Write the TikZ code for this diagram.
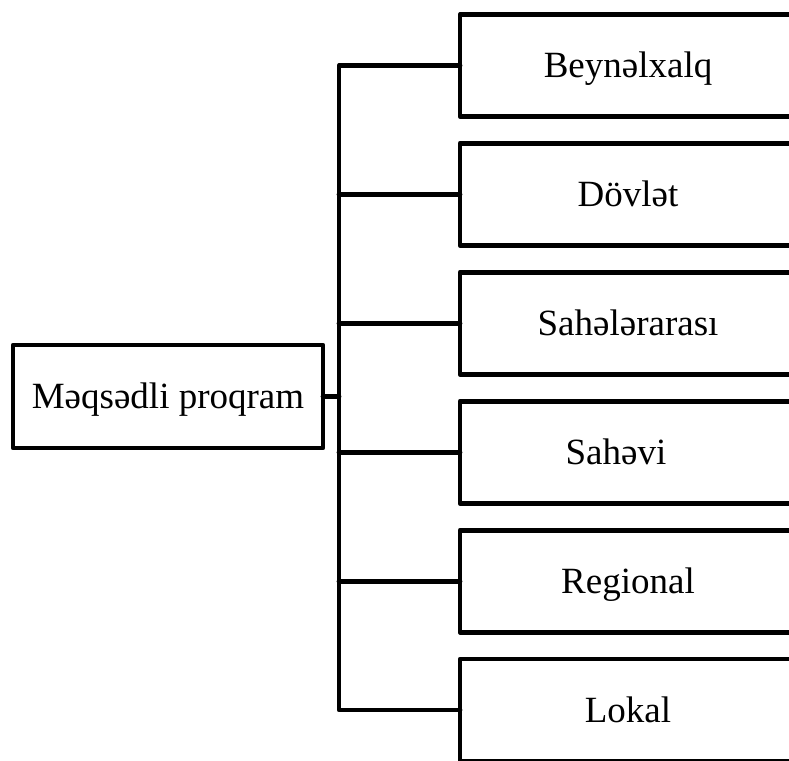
\documentclass[tikz,border=0pt]{standalone}
\usepackage{fontspec}
\setmainfont{Liberation Serif}
\begin{document}
\begin{tikzpicture}[x=1pt,y=-1pt,
  box/.style={draw, line width=4.8pt, line join=round, fill=white,
    inner sep=0pt, outer sep=0pt, text height=24.5pt, text depth=0pt,
    font=\fontsize{37}{44}\selectfont},
  leaf/.style={box, anchor=west, minimum width=336pt, minimum height=102pt},
  link/.style={line width=4.8pt, line join=round, line cap=round}]
\useasboundingbox (0,0) rectangle (789,760);
\clip (0,0) rectangle (789,760);

% root of the classification
\node[box, minimum width=310pt, minimum height=103pt] (root) at (168,396.5) {Məqsədli proqram};

% kinds of programmes
\node[leaf] (b1) at (460,65.5)  {Beynəlxalq};
\node[leaf] (b2) at (460,194.4) {Dövlət};
\node[leaf] (b3) at (460,323.3) {Sahələrarası};
\node[leaf] (b4) at (460,452.2) {Sahəvi\hspace*{24pt}};
\node[leaf] (b5) at (460,581.1) {Regional};
\node[leaf] (b6) at (460,710)   {Lokal};

% bracket joining root to every kind
\coordinate (bus) at (339,396.5);
\draw[link] (root.east) -- (bus);
\draw[link] (b1.west) -| (bus) |- (b6.west);
\foreach \b in {b2,b3,b4,b5}
  \draw[link] (\b.west) -- (\b.west -| bus);
\end{tikzpicture}
\end{document}
